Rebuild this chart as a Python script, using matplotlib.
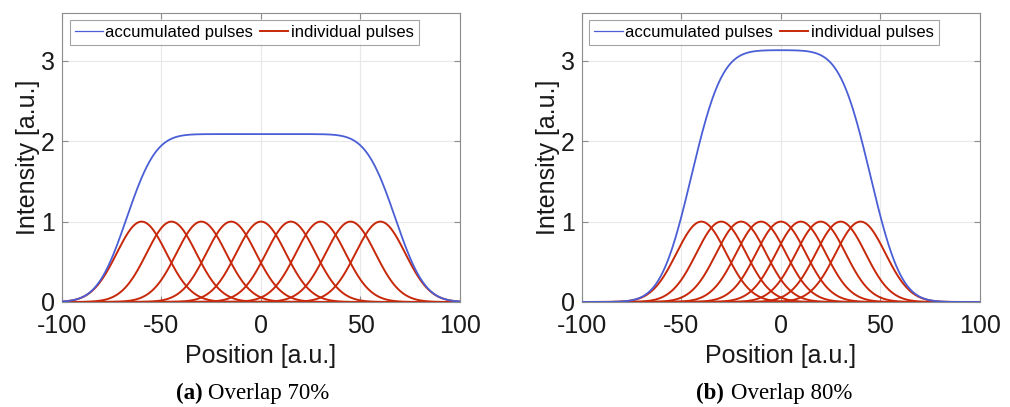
import numpy as np
import matplotlib
matplotlib.use("Agg")
import matplotlib.pyplot as plt

# ── Data ──────────────────────────────────────────────────────────────────────
x_range = [-100, 100]
centers_70 = [-60, -45, -30, -15, 0, 15, 30, 45, 60]   # 70 % overlap
centers_80 = [-40, -30, -20, -10, 0, 10, 20, 30, 40]   # 80 % overlap
pulse_peak = 1.0
beam_radius = 25.0          # 1/e^2 radius of each pulse
captions = [("a", "Overlap 70%"), ("b", "Overlap 80%")]
xticks = [-100, -50, 0, 50, 100]
yticks = [0, 1, 2, 3]

C_BLUE = "#4a5fd6"
C_RED = "#c8280a"
C_GRID = "#e8e8e8"
C_SPINE = "#8c8c8c"
C_TEXT = "#1a1a1a"
SERIF = ["Liberation Serif", "DejaVu Serif"]

plt.rcParams["font.family"] = ["Liberation Sans", "DejaVu Sans"]

fig = plt.figure(figsize=(10.1, 4.07), dpi=100)
ax_l = fig.add_axes([0.0614, 0.258, 0.394, 0.711])
ax_r = fig.add_axes([0.5762, 0.258, 0.394, 0.711])

x = np.linspace(x_range[0], x_range[1], 2001)


def pulse(c):
    return pulse_peak * np.exp(-2 * (x - c) ** 2 / beam_radius ** 2)


# caption anchor: right edge of "(a)" and left edge of the caption text
cap_pos = [(0.201, 0.206), (0.717, 0.7235)]

for ax, centers, (tag, cap), (xr, xc) in zip([ax_l, ax_r], [centers_70, centers_80],
                                             captions, cap_pos):
    pulses = [pulse(c) for c in centers]
    total = np.sum(pulses, axis=0)
    ax.plot(x, total, color=C_BLUE, lw=1.3, zorder=3, label="accumulated pulses")
    for i, p in enumerate(pulses):
        ax.plot(x, p, color=C_RED, lw=1.4, zorder=2,
                label="individual pulses" if i == 0 else None)

    ax.set_xlim(*x_range)
    ax.set_ylim(0, 3.6)
    ax.set_xticks(xticks)
    ax.set_xticklabels([str(t) for t in xticks])
    ax.set_yticks(yticks)
    ax.grid(True, color=C_GRID, lw=0.8)
    ax.set_axisbelow(True)
    ax.tick_params(direction="in", length=4, width=0.8, labelsize=18,
                   top=True, right=True, colors=C_SPINE, labelcolor=C_TEXT)
    ax.tick_params(axis="x", pad=9)
    ax.tick_params(axis="y", pad=5)
    for s in ax.spines.values():
        s.set_color(C_SPINE)
        s.set_linewidth(0.8)
    ax.set_xlabel("Position [a.u.]", fontsize=18, color=C_TEXT, labelpad=4)
    ax.set_ylabel("Intensity [a.u.]", fontsize=18, color=C_TEXT, labelpad=1)

    leg = ax.legend(loc="upper left", ncol=2, fontsize=12, frameon=True,
                    fancybox=False, handlelength=1.7, handletextpad=0.15,
                    columnspacing=0.4, borderpad=0.3, borderaxespad=0.45)
    leg.get_frame().set_edgecolor(C_SPINE)
    leg.get_frame().set_linewidth(0.8)
    leg.get_lines()[0].set_linewidth(0.9)

    fig.text(xr, 0.034, f"({tag})", fontsize=16.5, fontweight="bold",
             family=SERIF, ha="right", va="center")
    fig.text(xc, 0.034, cap, fontsize=16.5, family=SERIF,
             ha="left", va="center")

fig.savefig("out.png", dpi=100)
